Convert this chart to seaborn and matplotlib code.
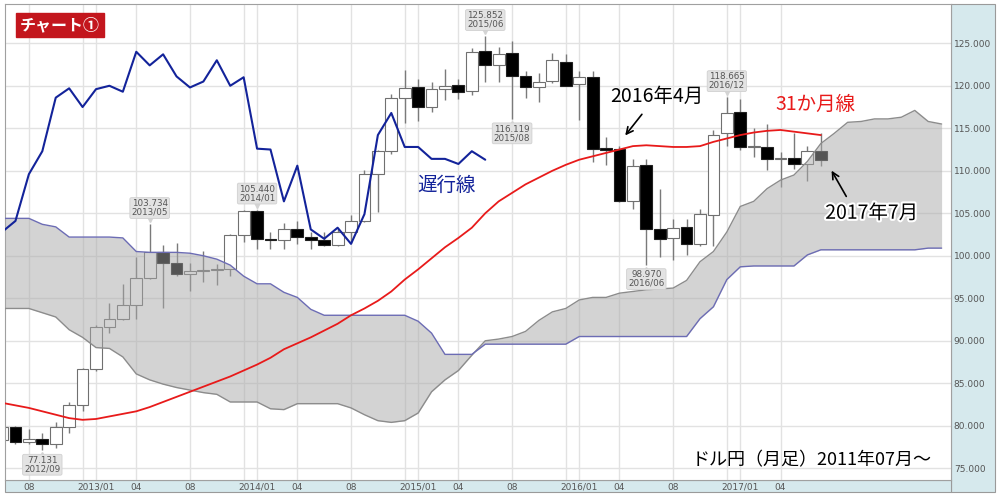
import matplotlib
matplotlib.use('Agg')
import matplotlib.pyplot as plt
import matplotlib.patheffects as pe
from matplotlib.patches import Rectangle
from matplotlib.transforms import offset_copy
import numpy as np
import pandas as pd
import seaborn as sns

# months shown on the axis: 2012/06 .. 2018/04 (cloud runs ahead of price)
months = [p.strftime('%Y/%m') for p in pd.period_range('2012-06', '2018-04', freq='M')]

# monthly candles 2012/06 .. 2017/07
opens = [78.3, 79.8, 78.1, 78.4, 77.9, 79.8, 82.4, 86.7, 91.6, 92.6, 94.2, 97.4,
         100.4, 99.1, 97.9, 98.2, 98.3, 98.4, 102.4, 105.3, 102.0, 101.8, 103.2, 102.2,
         101.8, 101.3, 102.8, 104.1, 109.6, 112.3, 118.6, 119.8, 117.5, 119.6, 120.1, 119.4,
         124.1, 122.5, 123.9, 121.2, 119.9, 120.6, 122.8, 120.2, 121.0, 112.7, 112.6, 106.5,
         110.7, 103.2, 102.1, 103.4, 101.4, 104.8, 114.5, 116.9, 112.8, 112.8, 111.4, 111.5,
         110.8, 112.3]
highs = [80.6, 80.0, 79.6, 79.2, 80.4, 82.8, 86.8, 91.8, 94.4, 96.7, 99.9, 103.734,
         101.3, 101.5, 99.2, 100.6, 99.0, 102.6, 105.4, 105.440, 102.8, 103.8, 104.1, 102.8,
         102.8, 103.1, 104.8, 110.1, 112.5, 119.0, 121.8, 120.8, 120.5, 122.0, 120.8, 124.5,
         125.852, 124.6, 125.3, 121.7, 121.5, 123.8, 123.7, 121.7, 121.7, 114.0, 112.9, 111.4,
         111.4, 107.9, 104.3, 104.3, 105.5, 114.8, 118.665, 118.5, 115.0, 115.5, 112.2, 114.4,
         112.9, 114.5]
lows = [77.6, 77.9, 77.9, 77.131, 77.4, 79.1, 81.7, 86.5, 90.9, 92.4, 92.6, 97.3,
        93.8, 97.6, 95.8, 96.9, 96.6, 97.6, 101.6, 100.8, 100.8, 100.8, 101.4, 100.8,
        101.1, 101.1, 101.5, 104.0, 105.2, 112.0, 115.6, 115.9, 116.9, 118.3, 118.5, 118.9,
        120.4, 120.4, 116.119, 118.6, 118.1, 120.3, 120.1, 116.0, 111.0, 110.7, 106.3, 105.5,
        98.970, 99.9, 99.5, 100.1, 101.2, 101.2, 112.9, 112.5, 111.6, 110.1, 108.1, 110.2,
        108.8, 110.6]
closes = [79.8, 78.1, 78.4, 77.9, 79.8, 82.4, 86.7, 91.6, 92.6, 94.2, 97.4, 100.4,
          99.1, 97.9, 98.2, 98.3, 98.4, 102.4, 105.3, 102.0, 101.8, 103.2, 102.2, 101.8,
          101.3, 102.8, 104.1, 109.6, 112.3, 118.6, 119.7, 117.5, 119.6, 120.0, 119.3, 124.0,
          122.4, 123.7, 121.1, 119.8, 120.5, 123.0, 120.0, 121.0, 112.6, 112.5, 106.4, 110.6,
          103.1, 102.0, 103.3, 101.4, 104.9, 114.2, 116.8, 112.8, 112.8, 111.4, 111.4, 110.8,
          112.3, 111.3]

# 31-month moving average 2012/06 .. 2017/07
ma31 = [82.7, 82.4, 82.1, 81.7, 81.3, 80.9, 80.7, 80.8, 81.1, 81.4, 81.7, 82.2,
        82.8, 83.4, 84.0, 84.6, 85.2, 85.8, 86.5, 87.2, 88.0, 89.0, 89.7, 90.4,
        91.2, 92.0, 93.0, 93.8, 94.7, 95.8, 97.2, 98.4, 99.7, 101.0, 102.1, 103.3,
        105.0, 106.4, 107.4, 108.4, 109.2, 110.0, 110.7, 111.3, 111.7, 112.1, 112.5, 112.9,
        113.0, 112.9, 112.8, 112.8, 112.9, 113.4, 113.8, 114.2, 114.5, 114.7, 114.8, 114.6,
        114.4, 114.2]

# cloud spans 2012/06 .. 2018/04
span_gray = [93.8, 93.8, 93.8, 93.3, 92.8, 91.3, 90.4, 89.2, 89.1, 88.1, 86.1, 85.4,
             84.9, 84.5, 84.2, 83.9, 83.7, 82.8, 82.8, 82.8, 82.0, 81.9, 82.6, 82.6,
             82.6, 82.6, 82.1, 81.3, 80.6, 80.4, 80.6, 81.5, 84.0, 85.4, 86.5, 88.3,
             90.0, 90.2, 90.5, 91.1, 92.4, 93.4, 93.8, 94.8, 95.1, 95.1, 95.6, 95.8,
             96.0, 96.1, 96.2, 97.1, 99.3, 100.5, 102.8, 105.8, 106.4, 107.9, 108.9, 109.5,
             111.1, 113.2, 114.4, 115.7, 115.8, 116.1, 116.1, 116.3, 117.1, 115.8, 115.5]
span_blue = [104.4, 104.4, 104.4, 103.7, 103.4, 102.2, 102.2, 102.2, 102.2, 102.1, 100.5, 100.4,
             100.4, 100.4, 100.3, 100.0, 99.6, 98.9, 97.6, 96.7, 96.7, 95.7, 95.1, 93.7,
             93.0, 93.0, 93.0, 93.0, 93.0, 93.0, 93.0, 92.3, 90.9, 88.4, 88.4, 88.4,
             89.6, 89.6, 89.6, 89.6, 89.6, 89.6, 89.6, 90.5, 90.5, 90.5, 90.5, 90.5,
             90.5, 90.5, 90.5, 90.5, 92.6, 94.0, 97.2, 98.7, 98.8, 98.8, 98.8, 98.8,
             100.1, 100.7, 100.7, 100.7, 100.7, 100.7, 100.7, 100.7, 100.7, 100.9, 100.9]

chikou_shift = 25

label_ticks = ['2012/08', '2013/01', '2013/04', '2013/08', '2014/01', '2014/04', '2014/08',
               '2015/01', '2015/04', '2015/08', '2016/01', '2016/04', '2016/08',
               '2017/01', '2017/04']
extra_grid = ['2012/12', '2013/12', '2014/12', '2015/12', '2016/12']

callouts = [('2012/09', 'low'), ('2013/05', 'high'), ('2014/01', 'high'),
            ('2015/06', 'high'), ('2015/08', 'low'), ('2016/06', 'low'),
            ('2016/12', 'high')]

sns.set_theme(style='white')
plt.rcParams['font.family'] = ['Noto Sans CJK JP', 'DejaVu Sans']

fig = plt.figure(figsize=(10, 4.96), dpi=100)
ax = fig.add_axes([0.005, 16 / 496, 0.946, 476 / 496])

# side panels
panel = '#d6e9ed'
fig.patches.append(Rectangle((0.951, 4 / 496), 0.044, 488 / 496, transform=fig.transFigure,
                             fc=panel, ec='#9a9a9a', lw=0.8, zorder=-1))
fig.patches.append(Rectangle((0.005, 4 / 496), 0.946, 12 / 496, transform=fig.transFigure,
                             fc=panel, ec='#9a9a9a', lw=0.8, zorder=-1))

n = len(opens)
x = np.arange(n)
idx = {m: i for i, m in enumerate(months)}

# grid
for v in range(75, 130, 5):
    ax.axhline(v, color='#e2e2e2', lw=1, zorder=0)
for m in label_ticks + extra_grid:
    ax.axvline(idx[m], color='#e2e2e2', lw=1, zorder=0)

# candles
ax.vlines(x, lows, highs, color='#7a7a7a', lw=1, zorder=1)
o = np.array(opens)
c = np.array(closes)
bottom = np.minimum(o, c)
height = np.maximum(np.abs(c - o), 0.15)
up = c >= o
ax.bar(x[up], height[up], bottom=bottom[up], width=0.88, color='white',
       edgecolor='#707070', lw=0.8, zorder=2)
ax.bar(x[~up], height[~up], bottom=bottom[~up], width=0.88, color='black',
       edgecolor='#202020', lw=0.8, zorder=2)

# cloud on top of the candles, semi transparent
xc = np.arange(len(span_gray))
ax.fill_between(xc, span_gray, span_blue, color='#a9a9a9', alpha=0.5, lw=0, zorder=3)
sns.lineplot(x=xc, y=span_gray, ax=ax, color='#8c8c8c', lw=1, zorder=4)
sns.lineplot(x=xc, y=span_blue, ax=ax, color='#6c6cb4', lw=1, zorder=4)

# 31-month line and lagging line
sns.lineplot(x=x, y=ma31, ax=ax, color='#e81a1a', lw=1.3, zorder=5)
sns.lineplot(x=x[:n - chikou_shift], y=closes[chikou_shift:], ax=ax,
             color='#13239a', lw=1.5, zorder=5)

# high / low callouts
for m, kind in callouts:
    i = idx[m]
    val = highs[i] if kind == 'high' else lows[i]
    dy = 11.5 if kind == 'high' else -10.5
    ax.annotate(f'{val:.3f}\n{m}', xy=(i, val), xytext=(0, dy), textcoords='offset points',
                ha='center', va='center', fontsize=6.3, color='#555555',
                family='DejaVu Sans', linespacing=0.95, zorder=7,
                bbox=dict(boxstyle='round,pad=0.18', fc='#e3e3e3', ec='#d0d0d0', lw=0.6))
    tr = offset_copy(ax.transData, fig=fig, x=0, y=(5 if kind == 'high' else -5), units='dots')
    ax.plot(i, val, marker='v' if kind == 'high' else '^', ms=5, color='#d4d4d4',
            transform=tr, zorder=6.5, clip_on=False)

# text annotations
i_apr = idx['2016/04']
ax.text(48.8, 118.7, '2016年4月', fontsize=14, color='black', ha='center', va='center', zorder=8)
ax.annotate('', xy=(i_apr + 0.3, ma31[i_apr] + 1.4), xytext=(i_apr + 1.8, ma31[i_apr] + 4.4),
            arrowprops=dict(arrowstyle='->', color='black', lw=1.2), zorder=8)
ax.text(60.6, 117.85, '31か月線', fontsize=14, color='#e81a1a', ha='center', va='center', zorder=8)
ax.text(33.1, 108.3, '遅行線', fontsize=14, color='#13239a', ha='center', va='center', zorder=8)

i_jul = idx['2017/07']
ax.text(64.8, 105.0, '2017年7月', fontsize=14, color='black', ha='center', va='center', zorder=8,
        path_effects=[pe.withStroke(linewidth=3, foreground='white')])
ax.annotate('', xy=(i_jul + 0.7, lows[i_jul] - 0.3), xytext=(i_jul + 2.0, lows[i_jul] - 3.9),
            arrowprops=dict(arrowstyle='->', color='black', lw=1.2), zorder=8)

ax.text(0.853, 0.042, 'ドル円（月足）2011年07月〜', transform=ax.transAxes, fontsize=13,
        color='black', ha='center', va='center', zorder=8)

ax.text(0.058, 0.956, 'チャート①', transform=ax.transAxes, fontsize=11.5, fontweight='bold',
        color='white', ha='center', va='center', zorder=9,
        bbox=dict(boxstyle='square,pad=0.25', fc='#c3161d', ec='#c3161d'))

# axes
ax.set_xlim(0.22, 70.7)
ax.set_ylim(73.62, 129.62)
ax.yaxis.tick_right()
ax.set_yticks(range(75, 130, 5))
ax.set_yticklabels([f'{v:.3f}' for v in range(75, 130, 5)], family='DejaVu Sans')
ax.set_xticks([idx[m] for m in label_ticks])
ax.set_xticklabels([m if m.endswith('/01') else m[-2:] for m in label_ticks], family='DejaVu Sans')
ax.tick_params(axis='y', length=0, pad=2, labelsize=6.5, labelcolor='#555555')
ax.tick_params(axis='x', length=0, pad=2, labelsize=6.5, labelcolor='#555555')
for s in ax.spines.values():
    s.set_color('#a0a0a0')
    s.set_linewidth(0.8)

fig.savefig('out.png', dpi=100)
